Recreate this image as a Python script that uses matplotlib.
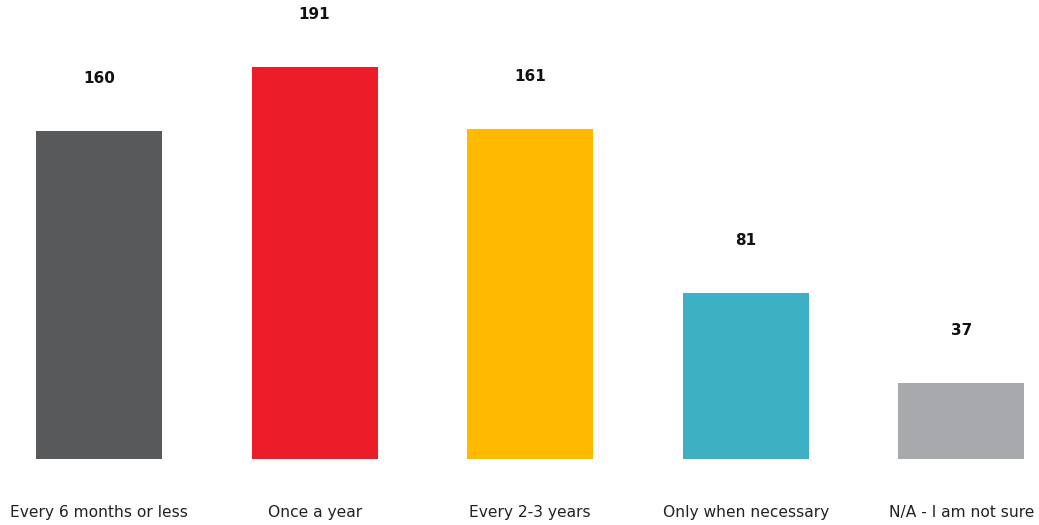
import matplotlib
matplotlib.use("Agg")
import matplotlib.pyplot as plt
import numpy as np

categories = ["Every 6 months or less", "Once a year", "Every 2-3 years",
              "Only when necessary", "N/A - I am not sure"]
counts = [160, 191, 161, 81, 37]
colors = ["#58595B", "#ED1C29", "#FFBA00", "#3DB0C4", "#A7A9AC"]

plt.rcParams['font.family'] = ['DejaVu Sans']

fig = plt.figure(figsize=(10.39, 5.25), dpi=100)
ax = fig.add_axes([0, 66 / 525, 1, 459 / 525])

xpos = np.arange(len(categories))
bars = ax.bar(xpos, counts, width=0.585, color=colors)

# bar spacing ~215.6 px, first bar centred at x=99 px
step = 215.6
ax.set_xlim(-99 / step, (1039 - 99) / step)
ax.set_ylim(0, 459 / 2.05)

for x, v in zip(xpos, counts):
    ax.annotate(str(v), (x, v), xytext=(0, 38), textcoords="offset points",
                ha="center", va="center", fontsize=11, fontweight="bold",
                color="#111111")

ax.set_xticks(xpos)
ax.set_xticklabels(categories, fontsize=11.2, color="#222222")
ax.tick_params(axis="x", length=0, pad=33)
ax.set_yticks([])
for s in ax.spines.values():
    s.set_visible(False)

plt.savefig("out.png", dpi=100)
